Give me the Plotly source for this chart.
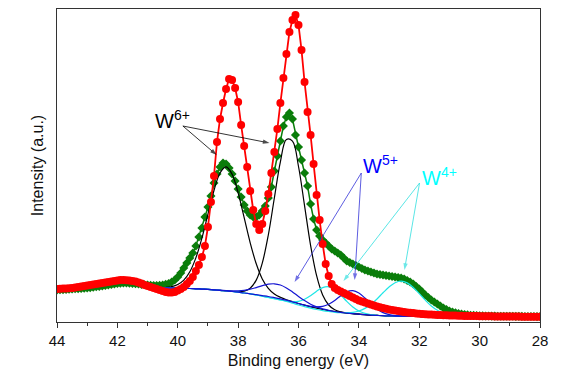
import numpy as np
import plotly.graph_objects as go

# Measured spectra (binding energy 44 -> 28 eV, step 0.1 eV)
energy = np.round(np.arange(44.0, 27.95, -0.1), 1)

red_counts = [
    33, 33.2, 33.4, 33.6, 33.8, 34, 34.5, 35, 35.5, 36,
    36.5, 37, 37.5, 38, 38.5, 39, 39.5, 40, 40.5, 41,
    41.5, 42, 42, 41.8, 41.5, 41, 40.5, 39.5, 38.5, 37,
    36, 35, 34, 33, 32, 31, 30, 29.5, 29.5, 30,
    31.5, 33, 35, 38, 41, 45, 51, 57, 65, 76,
    95, 120, 146, 180, 203, 219, 233, 243, 242, 234,
    220, 197, 176, 155, 131, 112, 98, 92, 98, 111,
    128, 149, 170, 193, 219, 244, 268, 290, 302, 307,
    297, 272, 240, 210, 187, 158, 127, 102, 78, 58,
    46, 38, 34, 32, 30.5, 29, 27.5, 26, 24.5, 23,
    21.5, 20.5, 19.5, 18.5, 17.5, 16.5, 15.5, 14.8, 14, 13.3,
    12.6, 12, 11.5, 11, 10.5, 10, 9.6, 9.2, 8.9, 8.6,
    8.3, 8, 7.8, 7.6, 7.4, 7.2, 7, 6.9, 6.8, 6.7,
    6.6, 6.5, 6.4, 6.3, 6.2, 6.1, 6, 6, 5.9, 5.9,
    5.8, 5.8, 5.7, 5.7, 5.7, 5.6, 5.6, 5.6, 5.5, 5.5,
    5.5, 5.4, 5.4, 5.4, 5.3, 5.3, 5.3, 5.2, 5.2, 5.2,
    5.2,
]

green_counts = [
    32, 32.2, 32.4, 32.6, 32.8, 33, 33.2, 33.4, 33.6, 33.8,
    34, 34.4, 34.8, 35.2, 35.6, 36, 36.5, 37, 37.5, 38,
    38.5, 38.8, 39, 39, 38.8, 38.5, 38.2, 38, 37.6, 37.3,
    37, 36.8, 36.5, 36.5, 36.6, 37, 37.6, 38.5, 40, 42,
    45, 49, 54, 59, 64, 69, 76, 85, 94, 105,
    115, 126, 139, 148, 155, 159, 158, 154, 148, 141,
    133, 125, 117, 111, 107, 105, 105, 107, 111, 116,
    124, 135, 151, 166, 181, 196, 205, 209, 203, 187,
    175, 162, 149, 136, 118, 103, 92, 86, 82, 79,
    76, 73, 71, 69, 67, 64, 61, 59.5, 58, 56.5,
    55, 53.5, 52, 51, 50, 49, 48, 47.5, 47, 46.5,
    46, 45.5, 45, 44.5, 44, 43, 41.5, 40, 38, 35.5,
    33, 30, 27, 24.5, 22, 20, 18, 16, 14, 12.5,
    11, 10, 9.2, 8.5, 8, 7.5, 7.1, 6.8, 6.6, 6.4,
    6.2, 6.1, 6.0, 6.0, 5.9, 5.9, 5.8, 5.8, 5.8, 5.7,
    5.7, 5.7, 5.6, 5.6, 5.6, 5.5, 5.5, 5.5, 5.5, 5.4,
    5.4,
]

# Fitted components (binding energy 40.6 -> 30.0 eV, step 0.2 eV)
fit_energy = np.round(np.arange(40.6, 29.95, -0.2), 1)

w6_a = [34.1, 34.5, 35.4, 37.5,
        41.9, 50.2, 64.1, 83.9, 107.9, 131.5, 149.0, 155.1, 147.8, 129.1,
        104.3, 79.2, 58.2, 43.1, 33.7, 28.0, 24.7, 22.3, 20.4, 18.5,
        16.8, 15.2, 13.8, 12.5, 11.4, 10.4, 9.6, 8.9, 8.3, 7.8,
        7.3, 6.9, 6.6, 6.3, 6.1, 5.9, 5.8, 5.7, 5.6, 5.5,
        5.4, 5.3, 5.3, 5.2, 5.2, 5.1, 5.1, 5.0, 5.0, 5.0]
w6_b = [34.0, 34.0, 34.0, 33.9,
        33.7, 33.5, 33.2, 32.9, 32.6, 32.2, 31.7, 31.1, 30.6, 30.3,
        30.8, 33.8, 41.9, 58.9, 87.0, 124.0, 160.2, 182.5, 180.9, 155.5,
        116.4, 76.7, 46.3, 27.1, 17.0, 12.2, 10.1, 9.0, 8.3, 7.8,
        7.3, 6.9, 6.6, 6.3, 6.1, 5.9, 5.8, 5.7, 5.6, 5.5,
        5.4, 5.3, 5.3, 5.2, 5.2, 5.1, 5.1, 5.0, 5.0, 5.0]
w5_a = [34.0, 34.0, 34.0, 33.9,
        33.7, 33.5, 33.2, 32.9, 32.6, 32.2, 31.8, 31.4, 31.1, 31.1,
        31.6, 32.8, 34.4, 36.3, 37.8, 38.2, 37.0, 34.1, 30.1, 25.6,
        21.4, 17.8, 15.1, 13.1, 11.7, 10.5, 9.6, 8.9, 8.3, 7.8,
        7.3, 6.9, 6.6, 6.3, 6.1, 5.9, 5.8, 5.7, 5.6, 5.5,
        5.4, 5.3, 5.3, 5.2, 5.2, 5.1, 5.1, 5.0, 5.0, 5.0]
w5_b = [34.0, 34.0, 34.0, 33.9,
        33.7, 33.5, 33.2, 32.9, 32.6, 32.2, 31.7, 31.1, 30.5, 29.8,
        29.0, 28.2, 27.3, 26.4, 25.5, 24.4, 23.2, 21.8, 20.2, 18.5,
        16.9, 15.7, 15.1, 15.6, 17.8, 21.6, 26.3, 30.1, 31.3, 29.0,
        24.0, 18.1, 13.0, 9.4, 7.4, 6.4, 5.9, 5.7, 5.6, 5.5,
        5.4, 5.3, 5.3, 5.2, 5.2, 5.1, 5.1, 5.0, 5.0, 5.0]
w4_a = [34.0, 34.0, 34.0, 33.9,
        33.7, 33.5, 33.2, 32.9, 32.6, 32.2, 31.7, 31.1, 30.5, 29.8,
        29.0, 28.2, 27.0, 25.8, 24.6, 23.4, 22.2, 21.0, 20.3, 20.7,
        22.7, 26.3, 30.8, 34.4, 35.2, 32.5, 27.0, 20.6, 15.0, 11.0,
        8.6, 7.4, 6.7, 6.3, 6.1, 5.9, 5.8, 5.7, 5.6, 5.5,
        5.4, 5.3, 5.3, 5.2, 5.2, 5.1, 5.1, 5.0, 5.0, 5.0]
w4_b = [34.0, 34.0, 34.0, 33.9,
        33.7, 33.5, 33.2, 32.9, 32.6, 32.2, 31.7, 31.1, 30.5, 29.8,
        29.0, 28.2, 27.0, 25.8, 24.6, 23.4, 22.0, 20.5, 18.8, 17.0,
        15.3, 13.8, 12.5, 11.4, 10.5, 9.7, 9.3, 9.3, 9.7, 11.0,
        13.6, 17.6, 23.0, 29.2, 35.0, 39.3, 40.8, 39.1, 34.5, 28.4,
        21.8, 16.0, 11.7, 8.6, 6.9, 5.9, 5.4, 5.0, 5.0, 5.0]

x_ticks = [44, 42, 40, 38, 36, 34, 32, 30, 28]

# label pointers: (tail energy, tail intensity, head energy, head intensity)
w6_pointers = [(39.83, 196, 38.71, 167), (39.83, 196, 36.96, 179)]
w5_pointers = [(33.92, 149, 36.13, 40), (33.92, 149, 34.14, 42)]
w4_pointers = [(31.99, 139, 34.51, 41), (31.99, 139, 32.49, 52)]

FONT = "Arial, Liberation Sans, sans-serif"
BLACK = "#000000"
BLUE = "#1414d2"
CYAN = "#1ee6e6"

fig = go.Figure()

fig.add_trace(go.Scatter(x=energy, y=green_counts, mode="lines+markers",
                         line=dict(color="#0a7d0a", width=1.5),
                         marker=dict(symbol="diamond", size=7, color="#0a7d0a"),
                         showlegend=False))

for ys in (w6_a, w6_b):
    fig.add_trace(go.Scatter(x=fit_energy, y=ys, mode="lines", line=dict(color=BLACK, width=1.2, shape="spline"),
                             showlegend=False, hoverinfo="skip"))
for ys in (w4_a, w4_b):
    fig.add_trace(go.Scatter(x=fit_energy, y=ys, mode="lines", line=dict(color=CYAN, width=1.2, shape="spline"),
                             showlegend=False, hoverinfo="skip"))
for ys in (w5_a, w5_b):
    fig.add_trace(go.Scatter(x=fit_energy, y=ys, mode="lines", line=dict(color=BLUE, width=1.2, shape="spline"),
                             showlegend=False, hoverinfo="skip"))

fig.add_trace(go.Scatter(x=energy, y=red_counts, mode="lines+markers",
                         line=dict(color="#ff0000", width=1.8),
                         marker=dict(symbol="circle", size=8, color="#ff0000"),
                         showlegend=False))

# pointer arrows drawn as two-point lines ending in an arrow marker
for pointers, col in ((w6_pointers, "#000000"), (w5_pointers, "#3434d8"), (w4_pointers, "#30dede")):
    for tx, ty, hx, hy in pointers:
        fig.add_trace(go.Scatter(
            x=[tx, hx], y=[ty, hy], mode="lines+markers",
            line=dict(color=col, width=0.8),
            marker=dict(symbol=["circle", "arrow"], size=[0, 7], angleref="previous", color=col,
                        line=dict(width=0)),
            showlegend=False, hoverinfo="skip"))

labels = [
    (40.83, 203, "W<sup>6+</sup>", BLACK),
    (33.92, 158, "W<sup>5+</sup>", "#0000ff"),
    (31.99, 146, "W<sup>4+</sup>", "#00ffff"),
]
for lx, ly, txt, col in labels:
    fig.add_annotation(x=lx, y=ly, xref="x", yref="y", text=txt, showarrow=False,
                       xanchor="left", yanchor="middle", font=dict(family=FONT, size=20, color=col))

# page body has an 8px margin: figure is sized so that it fits the 580x380 window
fig.update_layout(
    width=572, height=372,
    margin=dict(l=49, r=40, t=1, b=58),
    paper_bgcolor="white", plot_bgcolor="white",
    font=dict(family=FONT, color="#111111"),
    showlegend=False,
)
fig.update_xaxes(
    range=[44, 28], tickvals=x_ticks, ticktext=[str(t) for t in x_ticks],
    ticks="outside", ticklen=5, tickwidth=1, tickcolor="#333333",
    minor=dict(ticks="outside", ticklen=3, dtick=1, tickcolor="#333333"),
    showline=True, linecolor="#333333", linewidth=1, mirror=True,
    showgrid=False, zeroline=False, automargin=False,
    tickfont=dict(size=15, family=FONT, color="#111111"),
    title=dict(text="Binding energy (eV)", font=dict(size=16, family=FONT, color="#111111"), standoff=6),
)
fig.update_yaxes(
    range=[0, 313], showticklabels=False, ticks="",
    showline=True, linecolor="#333333", linewidth=1, mirror=True,
    showgrid=False, zeroline=False, automargin=False,
    title=dict(text="Intensity (a.u.)", font=dict(size=16, family=FONT, color="#111111"), standoff=8),
)

fig.write_html("out.html")
